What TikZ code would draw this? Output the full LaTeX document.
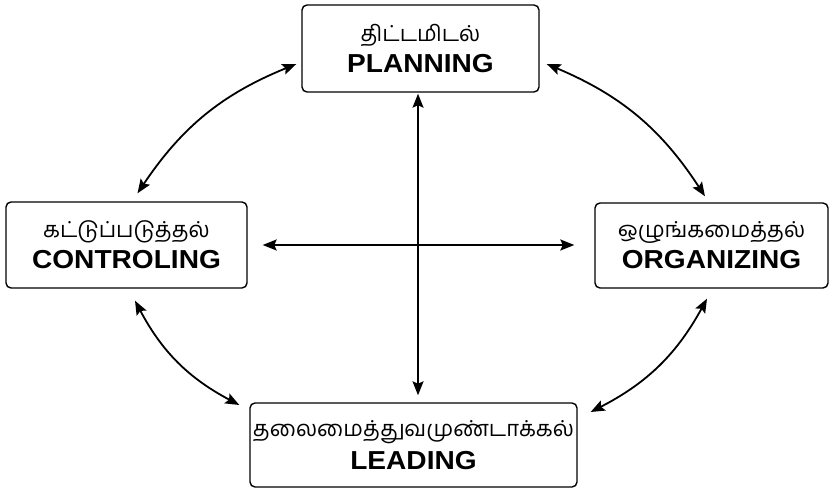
\documentclass[tikz,border=0pt]{standalone}
\usepackage{fontspec}
\usetikzlibrary{arrows.meta,calc}
\newfontfamily\tamfont[Script=Tamil]{Hind Madurai}
\newfontfamily\latfont[FakeStretch=1.08]{Liberation Sans}
\newcommand{\boxtext}[2]{{\tamfont\fontsize{22}{30}\selectfont #1}\\[6pt]{\latfont\bfseries\fontsize{26}{30}\selectfont #2}}
\begin{document}
\begin{tikzpicture}[x=1pt,y=-1pt,
  stage/.style={draw, line width=1.4pt, rounded corners=5pt, align=center,
    inner sep=0pt, minimum width=#1},
  link/.style={line width=1.8pt, {Stealth[length=14pt,width=11pt,inset=2.5pt]}-{Stealth[length=14pt,width=11pt,inset=2.5pt]}}]
\useasboundingbox (0,0) rectangle (829,489);
% the four management functions
\node[stage=237pt, minimum height=87pt] (plan) at (420.5,48.5) {\boxtext{திட்டமிடல்}{PLANNING}};
\node[stage=241pt, minimum height=86pt] (ctrl) at (126.5,245) {\boxtext{கட்டுப்படுத்தல்}{CONTROLING}};
\node[stage=233pt, minimum height=85pt] (org) at (711.5,245.5) {\boxtext{ஒழுங்கமைத்தல்}{ORGANIZING}};
\node[stage=327pt, minimum height=84pt] (lead) at (413.5,445) {\boxtext{தலைமைத்துவமுண்டாக்கல்}{LEADING}};
% cycle around the functions
\draw[link] ($(plan.west)+(-5,15.5)$) to[bend right=17] ($(ctrl.north)+(11,-8)$);
\draw[link] ($(plan.east)+(7,15.5)$) to[bend left=17] ($(org.north)+(-6.5,-6)$);
\draw[link] ($(ctrl.south)+(8.5,12)$) to[bend right=17] ($(lead.west)+(-10,-40)$);
\draw[link] ($(org.south)+(-4.5,10)$) to[bend left=17] ($(lead.east)+(13,-33)$);
% central cross
\draw[link] ($(plan.south)+(-2.5,1)$) -- ($(lead.north)+(4.5,-7)$);
\draw[link] ($(ctrl.east)+(15,0)$) -- ($(org.west)+(-20,-0.5)$);
\end{tikzpicture}
\end{document}
